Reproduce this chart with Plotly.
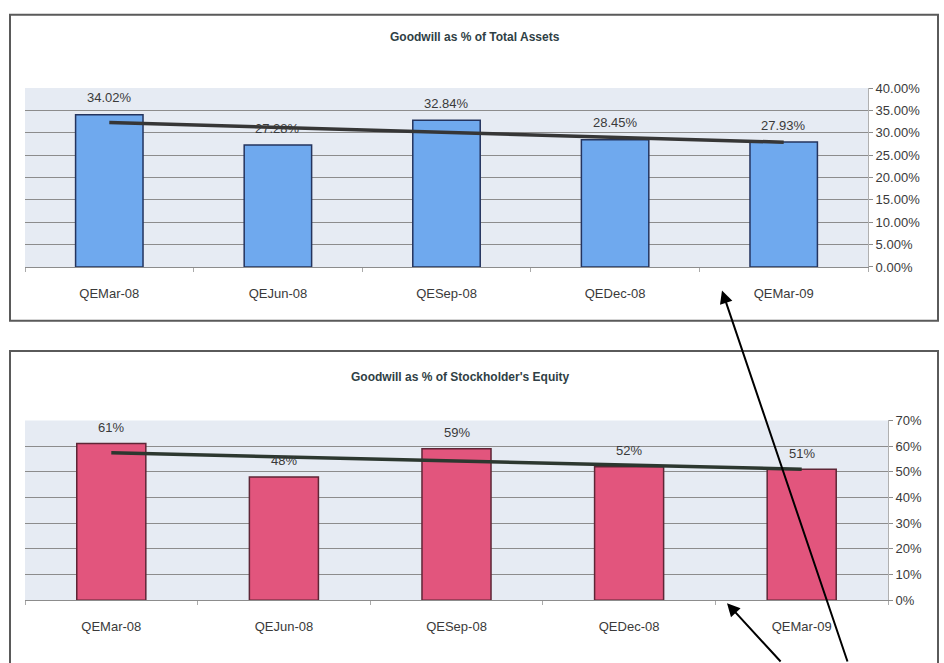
import plotly.graph_objects as go

categories = ["QEMar-08", "QEJun-08", "QESep-08", "QEDec-08", "QEMar-09"]
assets_pct = [34.02, 27.28, 32.84, 28.45, 27.93]
assets_labels = ["34.02%", "27.28%", "32.84%", "28.45%", "27.93%"]
assets_trend = [32.3, 31.2, 30.1, 29.0, 27.9]
equity_pct = [61, 48, 59, 52, 51]
equity_labels = ["61%", "48%", "59%", "52%", "51%"]
equity_trend = [57.4, 55.8, 54.2, 52.6, 51.0]

W, H = 944, 663
def px(x):
    return x / W
def py(y):
    return 1 - y / H

FONT = "Liberation Sans Narrow, Arial Narrow, Liberation Sans, Arial"
GRID = "#8c8c8c"
TXT = "#3a3a3a"

fig = go.Figure()
fig.add_trace(go.Bar(x=categories, y=assets_pct, width=0.4,
                     marker=dict(color="#6fa9ee", line=dict(color="#24345e", width=1.5)),
                     xaxis="x", yaxis="y", showlegend=False))
fig.add_trace(go.Scatter(x=categories, y=assets_trend, mode="lines",
                         line=dict(color="#363636", width=3.5), xaxis="x", yaxis="y",
                         showlegend=False))
fig.add_trace(go.Bar(x=categories, y=equity_pct, width=0.4,
                     marker=dict(color="#e2557d", line=dict(color="#5e2636", width=1.5)),
                     xaxis="x2", yaxis="y2", showlegend=False))
fig.add_trace(go.Scatter(x=categories, y=equity_trend, mode="lines",
                         line=dict(color="#2c372f", width=3.5), xaxis="x2", yaxis="y2",
                         showlegend=False))

annotations = []
for c, v, t in zip(categories, assets_pct, assets_labels):
    annotations.append(dict(x=c, y=v, xref="x", yref="y", text=t, showarrow=False,
                            yanchor="middle", yshift=17,
                            font=dict(family=FONT, size=13, color=TXT)))
for c, v, t in zip(categories, equity_pct, equity_labels):
    annotations.append(dict(x=c, y=v, xref="x2", yref="y2", text=t, showarrow=False,
                            yanchor="middle", yshift=16,
                            font=dict(family=FONT, size=13, color=TXT)))

annotations.append(dict(x=px(475), y=py(31), xref="paper", yref="paper",
                        text="<b>Goodwill as % of Total Assets</b>", showarrow=False,
                        xanchor="center", yanchor="middle",
                        font=dict(family=FONT, size=12, color="#2f3f45")))
annotations.append(dict(x=px(460), y=py(379), xref="paper", yref="paper",
                        text="<b>Goodwill as % of Stockholder's Equity</b>", showarrow=False,
                        xanchor="center", yanchor="middle",
                        font=dict(family=FONT, size=12, color="#2f3f45")))

# pointer arrows
annotations.append(dict(x=px(722), y=py(290), xref="paper", yref="paper", text="",
                        showarrow=True, arrowhead=2, arrowsize=1.3, arrowwidth=2,
                        arrowcolor="black", ax=126, ay=380, axref="pixel", ayref="pixel"))
annotations.append(dict(x=px(727), y=py(610), xref="paper", yref="paper", text="",
                        showarrow=True, arrowhead=2, arrowsize=1.3, arrowwidth=2,
                        arrowcolor="black", ax=55, ay=62, axref="pixel", ayref="pixel"))

shapes = [
    dict(type="rect", xref="paper", yref="paper", x0=px(10), x1=px(938), y0=py(321), y1=py(8),
         line=dict(color="#5a5a5a", width=2), fillcolor="rgba(0,0,0,0)", layer="below"),
    dict(type="rect", xref="paper", yref="paper", x0=px(10), x1=px(938), y0=py(680), y1=py(352),
         line=dict(color="#5a5a5a", width=2), fillcolor="rgba(0,0,0,0)", layer="below"),
    dict(type="rect", xref="paper", yref="paper", x0=px(25), x1=px(868), y0=py(266), y1=py(83),
         line=dict(width=0), fillcolor="#e6ebf3", layer="below"),
    dict(type="rect", xref="paper", yref="paper", x0=px(25), x1=px(888), y0=py(607), y1=py(423),
         line=dict(width=0), fillcolor="#e6ebf3", layer="below"),
]

xcommon = dict(type="category", tickson="boundaries", ticks="outside", ticklen=4,
               tickcolor="#aaaaaa", showline=True, linecolor=GRID, linewidth=1,
               showgrid=False, range=[-0.5, 4.5], ticklabelstandoff=14,
               tickfont=dict(family=FONT, size=13, color=TXT))
ycommon = dict(side="right", ticks="outside", ticklen=4, tickcolor=GRID,
               showline=True, linecolor="#b0b0b0", linewidth=1,
               showgrid=True, gridcolor=GRID, gridwidth=1, zeroline=False,
               tickfont=dict(family=FONT, size=13, color=TXT))

fig.update_layout(
    width=W, height=H,
    margin=dict(l=0, r=0, t=0, b=0),
    paper_bgcolor="white",
    plot_bgcolor="rgba(0,0,0,0)",
    xaxis=dict(domain=[px(25), px(868)], anchor="y", **xcommon),
    yaxis=dict(domain=[py(266), py(83)], anchor="x", range=[0, 40], dtick=5,
               tickformat=".2f", ticksuffix="%", **ycommon),
    xaxis2=dict(domain=[px(25), px(888)], anchor="y2", **xcommon),
    yaxis2=dict(domain=[py(607), py(423)], anchor="x2", range=[0, 70], dtick=10,
                tickformat="d", ticksuffix="%", **ycommon),
    annotations=annotations,
    shapes=shapes,
    bargap=0.6,
)

fig.write_html("out.html")
